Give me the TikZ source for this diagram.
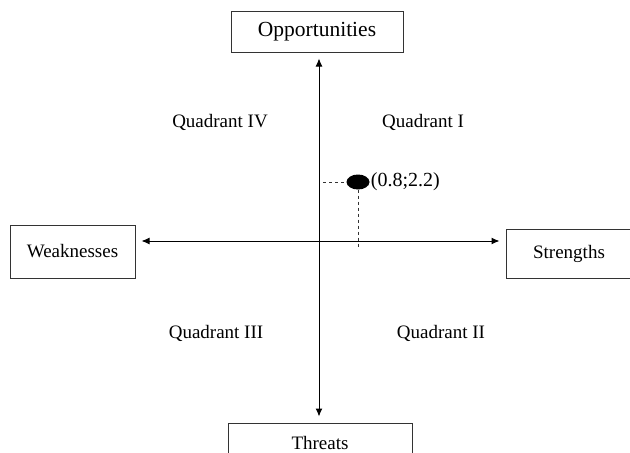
\documentclass[tikz,border=0pt]{standalone}
\usepackage{fontspec}
\setmainfont{Liberation Serif}
\usetikzlibrary{arrows.meta,shapes.geometric}

\begin{document}
\begin{tikzpicture}[x=1pt,y=-1pt,
    box/.style={draw=black!80, line width=1pt, fill=white, inner sep=0pt,
        font=\fontsize{19}{21}\selectfont},
    quad/.style={font=\fontsize{19}{21}\selectfont},
    axis/.style={line width=1pt, {Latex[length=8pt,width=7pt]}-{Latex[length=8pt,width=7pt]},
        shorten <=6pt, shorten >=6pt},
    guide/.style={dashed, line width=0.8pt, black!80}]
                \useasboundingbox (0,0) rectangle (630,453);
                \clip (0,0) rectangle (630,453);

                \coordinate (o) at (319,241);

                \node[box, minimum width=172, minimum height=41, font=\fontsize{21.5}{23}\selectfont] (opp) at (317,31.5) {Opportunities};
                \node[box, minimum width=125, minimum height=53] (weak) at (72.5,251.5) {Weaknesses};
                \node[box, minimum width=126, minimum height=49] (str) at (569,253.5) {Strengths};
                \node[box, minimum width=184, minimum height=44, text depth=0pt] (thr) at (320,445) {\raisebox{4.5pt}{Threats}};

                \draw[axis] (opp.south -| o) -- (thr.north -| o);
                \draw[axis] (weak.east |- o) -- (str.west |- o);

                \node[quad] (q4) at (220,122) {Quadrant IV};
                \node[quad] (q1) at (423,122) {Quadrant I};
                \node[quad] (q3) at (216,333) {Quadrant III};
                \node[quad] (q2) at (441,333) {Quadrant II};

                \node[ellipse, fill=black, minimum width=23, minimum height=15, inner sep=0pt] (pt) at (358,182) {};
                \node[quad, anchor=west, inner sep=1pt, font=\fontsize{20}{22}\selectfont] (ptlabel) at (pt.east) {(0.8;2.2)};

                \coordinate (gx) at (o |- pt);
                \coordinate (gy) at (pt |- o);
                \draw[guide] ([xshift=4pt]gx) -- (pt.west);
                \draw[guide] (pt.south) -- ([yshift=-6pt]gy);
            \end{tikzpicture}
\end{document}
